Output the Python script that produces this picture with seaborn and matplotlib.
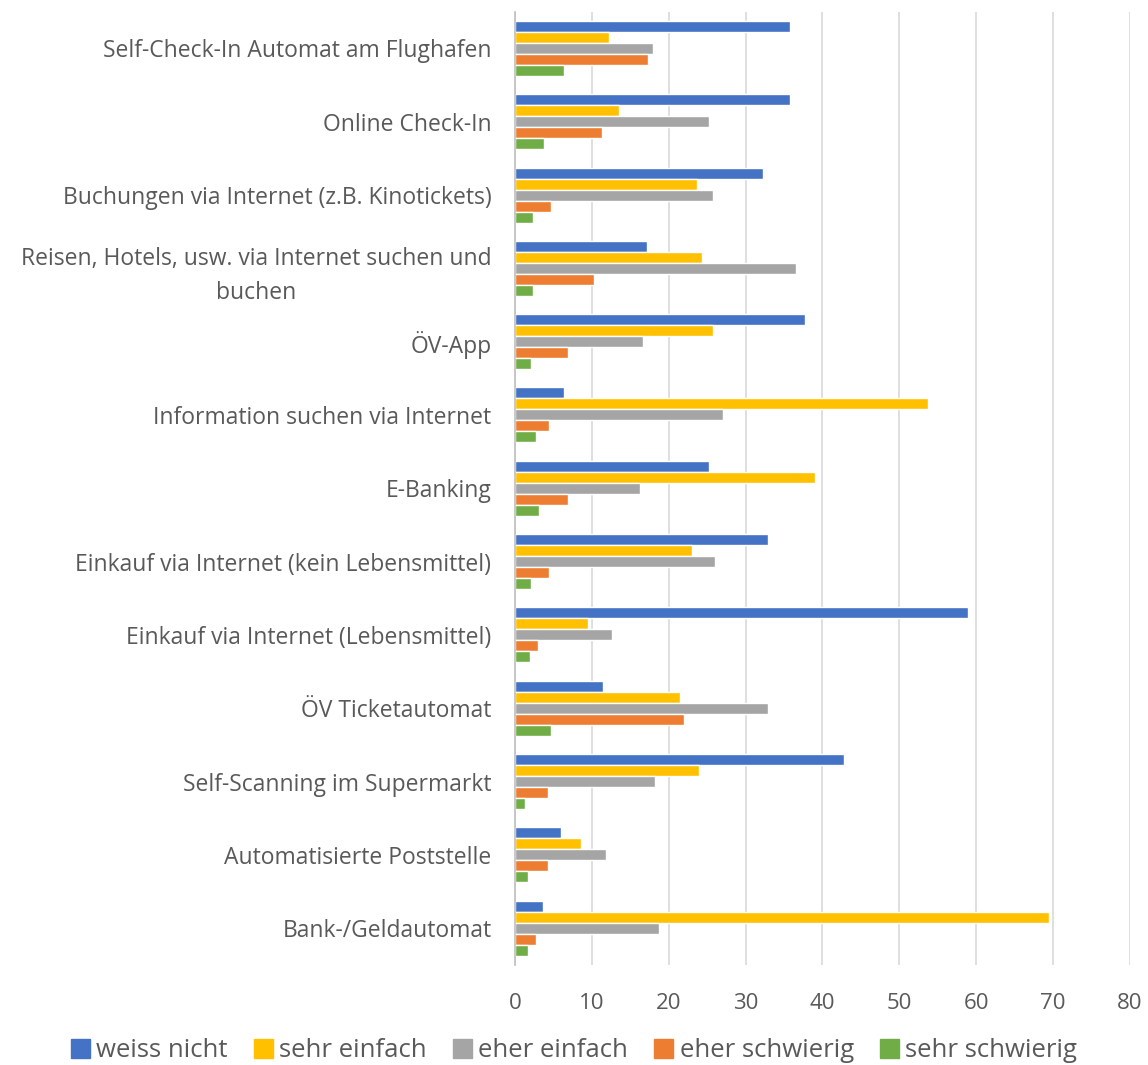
import matplotlib
matplotlib.use("Agg")
import matplotlib.pyplot as plt
import seaborn as sns
import pandas as pd

categories = [
    "Self-Check-In Automat am Flughafen",
    "Online Check-In",
    "Buchungen via Internet (z.B. Kinotickets)",
    "Reisen, Hotels, usw. via Internet suchen und\nbuchen",
    "ÖV-App",
    "Information suchen via Internet",
    "E-Banking",
    "Einkauf via Internet (kein Lebensmittel)",
    "Einkauf via Internet (Lebensmittel)",
    "ÖV Ticketautomat",
    "Self-Scanning im Supermarkt",
    "Automatisierte Poststelle",
    "Bank-/Geldautomat",
]
series = ["weiss nicht", "sehr einfach", "eher einfach", "eher schwierig", "sehr schwierig"]

weiss_nicht    = [35.8, 35.8, 32.3, 17.2, 37.7, 6.4, 25.2, 32.9, 58.9, 11.4, 42.8, 6.0, 3.6]
sehr_einfach   = [12.2, 13.5, 23.7, 24.3, 25.8, 53.7, 39.0, 23.0, 9.5, 21.5, 23.9, 8.6, 69.5]
eher_einfach   = [18.0, 25.2, 25.8, 36.6, 16.7, 27.1, 16.3, 26.0, 12.6, 32.9, 18.2, 11.8, 18.7]
eher_schwierig = [17.3, 11.3, 4.7, 10.3, 6.9, 4.4, 6.9, 4.4, 3.0, 22.0, 4.3, 4.3, 2.7]
sehr_schwierig = [6.4, 3.8, 2.3, 2.3, 2.1, 2.7, 3.1, 2.1, 2.0, 4.7, 1.3, 1.7, 1.7]

colors = ["#4472C4", "#FFC000", "#A5A5A5", "#ED7D31", "#70AD47"]

values = [weiss_nicht, sehr_einfach, eher_einfach, eher_schwierig, sehr_schwierig]
rows = []
for s, vals in zip(series, values):
    for c, v in zip(categories, vals):
        rows.append({"Kategorie": c, "Serie": s, "Wert": v})
df = pd.DataFrame(rows)

sns.set_theme(style="white")
plt.rcParams["font.family"] = ["Open Sans", "DejaVu Sans"]

fig = plt.figure(figsize=(11.48, 10.65), dpi=100)
ax = fig.add_axes([0.4486, 0.094, 0.5357, 0.895])

sns.barplot(data=df, y="Kategorie", x="Wert", hue="Serie", order=categories,
            hue_order=series, palette=colors, orient="h", width=0.75, gap=0,
            errorbar=None, ax=ax, saturation=1, legend=True)

ax.set_xlim(0, 80)
ax.set_xticks(range(0, 81, 10))
ax.set_xlabel("")
ax.set_ylabel("")
ax.grid(axis="x", color="#D9D9D9", linewidth=1.2)
ax.grid(axis="y", visible=False)
ax.set_axisbelow(True)
for sp in ["top", "right", "bottom"]:
    ax.spines[sp].set_visible(False)
ax.spines["left"].set_color("#BFBFBF")
ax.spines["left"].set_linewidth(1.2)
ax.tick_params(axis="both", length=0, colors="#595959")
ax.tick_params(axis="x", pad=20, labelsize=16)
ax.tick_params(axis="y", pad=17, labelsize=16.5)
for lbl in ax.get_yticklabels():
    lbl.set_multialignment("center")
    lbl.set_color("#595959")
    if "\n" in lbl.get_text():
        lbl.set_linespacing(1.55)

ax.legend_.remove()
handles = [plt.Rectangle((0, 0), 1, 1, color=c) for c in colors]
fig.legend(handles, series, loc="lower center", bbox_to_anchor=(0.5, -0.02),
           ncol=5, frameon=False, fontsize=18.5, handlelength=0.75, handleheight=0.75,
           handletextpad=0.25, columnspacing=1.0, labelcolor="#595959")

fig.savefig("out.png", dpi=100)
